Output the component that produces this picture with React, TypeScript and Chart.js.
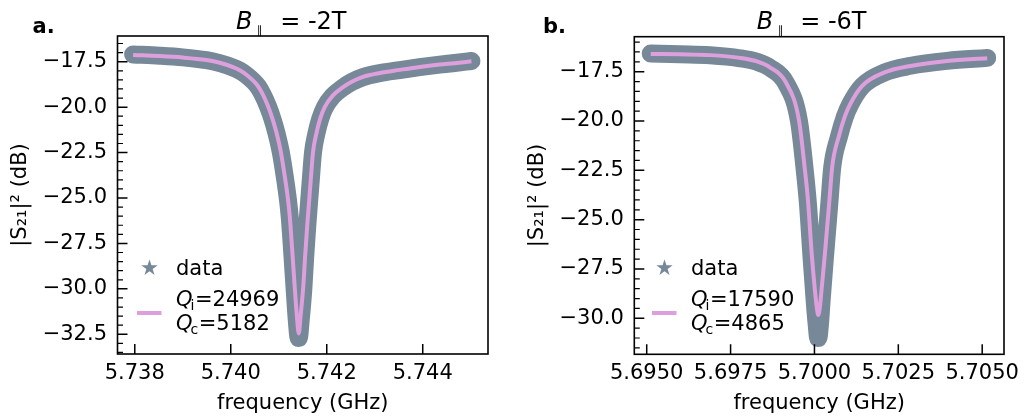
import React, { useEffect, useRef } from "react";
import { Chart, registerables } from "chart.js";
Chart.register(...registerables);

const FONT = "'DejaVu Sans', sans-serif";
const DATA_COLOR = "#778899";
const FIT_COLOR = "#dda0dd";

// ---------- panel a (B = -2T) ----------
const freqA = [
  5.737965, 5.738521, 5.739000, 5.739494, 5.739771, 5.740048, 5.740188, 5.740327,
  5.740569, 5.740667, 5.740777, 5.740865, 5.740952, 5.741042, 5.741125, 5.741194,
  5.741229, 5.741281, 5.741333, 5.741375, 5.741417, 5.741458, 5.741510, 5.741552,
  5.741594, 5.741635, 5.741667, 5.741715, 5.741785, 5.741865, 5.741958, 5.742125,
  5.742340, 5.742521, 5.742756, 5.743104, 5.743521, 5.743938, 5.744354, 5.744667,
  5.745015,
];
const fitA = [
  -17.13, -17.19, -17.27, -17.41, -17.56, -17.8, -17.97, -18.22,
  -18.85, -19.3, -19.95, -20.6, -21.4, -22.45, -23.8, -25.11,
  -26.0, -27.9, -29.9, -31.4, -32.45, -31.4, -29.9, -28.1,
  -26.5, -25.1, -24.0, -22.45, -21.44, -20.62, -20.0, -19.37,
  -18.9, -18.6, -18.33, -18.12, -17.95, -17.79, -17.66, -17.58,
  -17.48,
];
const dataA = [
  -17.1, -17.17, -17.26, -17.42, -17.58, -17.82, -17.99, -18.24,
  -18.87, -19.32, -19.97, -20.62, -21.42, -22.47, -23.82, -25.15,
  -26.05, -28.0, -30.1, -31.7, -32.7, -31.7, -30.1, -28.2,
  -26.55, -25.12, -24.02, -22.47, -21.45, -20.64, -20.02, -19.39,
  -18.92, -18.62, -18.35, -18.13, -17.96, -17.8, -17.66, -17.57,
  -17.46,
];
const xTicksA = [5.738, 5.74, 5.742, 5.744];
const yTicksA = [-32.5, -30.0, -27.5, -25.0, -22.5, -20.0, -17.5];

// ---------- panel b (B = -6T) ----------
const freqB = [
  5.695119, 5.695992, 5.696886, 5.69778, 5.698287, 5.698674, 5.699151, 5.699538,
  5.699717, 5.699806, 5.699917, 5.700015, 5.700066, 5.700113, 5.700164, 5.700209,
  5.700313, 5.700447, 5.70053, 5.70073, 5.700909, 5.701079, 5.701424, 5.702071,
  5.702867, 5.703957, 5.705149,
];
const fitB = [
  -16.6, -16.62, -16.66, -16.8, -16.98, -17.28, -18.05, -19.95,
  -22.5, -24.0, -26.7, -28.6, -29.4, -29.83, -29.4, -28.6,
  -26.7, -24.0, -22.3, -20.76, -19.75, -19.1, -18.22, -17.55,
  -17.21, -16.96, -16.82,
];
const dataB = [
  -16.58, -16.62, -16.67, -16.82, -17.0, -17.3, -18.08, -20.0,
  -22.6, -24.2, -27.0, -29.3, -30.3, -31.0, -30.3, -29.2,
  -26.9, -24.1, -22.35, -20.8, -19.77, -19.11, -18.23, -17.55,
  -17.2, -16.95, -16.8,
];
const xTicksB = [5.695, 5.6975, 5.7, 5.7025, 5.705];
const yTicksB = [-30.0, -27.5, -25.0, -22.5, -20.0, -17.5];

type Cfg = {
  left: number; width: number;
  freq: number[]; fit: number[]; data: number[];
  xTicks: number[]; yTicks: number[]; xDec: number;
  xMin: number; xMax: number; yMin: number; yMax: number;
  yAxisW: number; xAxisH: number; padTop: number; padRight: number; yTitlePad: number;
  panel: string; panelX: number; field: string; titleX: number; parX: number; eqX: number;
  qi: string; qc: string;
};

const cfgA: Cfg = {
  left: 0, width: 515, freq: freqA, fit: fitA, data: dataA,
  xTicks: xTicksA, yTicks: yTicksA, xDec: 3,
  xMin: 5.73764, xMax: 5.74536, yMin: -33.584, yMax: -16.086,
  yAxisW: 117.5, xAxisH: 65, padTop: 36, padRight: 27, yTitlePad: 8,
  panel: "a.", panelX: 32.5, field: "-2T", titleX: 236, parX: 257, eqX: 280.2,
  qi: "24969", qc: "5182",
};
const cfgB: Cfg = {
  left: 515, width: 514, freq: freqB, fit: fitB, data: dataB,
  xTicks: xTicksB, yTicks: yTicksB, xDec: 4,
  xMin: 5.69463, xMax: 5.70565, yMin: -31.825, yMax: -15.726,
  yAxisW: 119.3, xAxisH: 64.7, padTop: 36.7, padRight: 25, yTitlePad: 9.5,
  panel: "b.", panelX: 28, field: "-6T", titleX: 241.7, parX: 263, eqX: 285.2,
  qi: "17590", qc: "4865",
};

function starPath(ctx: CanvasRenderingContext2D, cx: number, cy: number, R: number) {
  const r = R * 0.381966;
  ctx.beginPath();
  for (let i = 0; i < 10; i++) {
    const rad = i % 2 === 0 ? R : r;
    const a = -Math.PI / 2 + (i * Math.PI) / 5;
    const px = cx + rad * Math.cos(a);
    const py = cy + rad * Math.sin(a);
    if (i === 0) ctx.moveTo(px, py);
    else ctx.lineTo(px, py);
  }
  ctx.closePath();
}

function decor(cfg: Cfg) {
  return {
    id: "decor" + cfg.panel,
    afterDraw(chart: any) {
      const ctx: CanvasRenderingContext2D = chart.ctx;
      const a = chart.chartArea;
      const xs = chart.scales.x;
      const ys = chart.scales.y;
      ctx.save();
      // ticks (inward)
      ctx.strokeStyle = "#000";
      ctx.lineWidth = 1.5;
      ctx.beginPath();
      for (const v of cfg.xTicks) {
        const px = xs.getPixelForValue(v);
        ctx.moveTo(px, a.bottom);
        ctx.lineTo(px, a.bottom - 10);
      }
      for (const v of cfg.yTicks) {
        const py = ys.getPixelForValue(v);
        ctx.moveTo(a.left, py);
        ctx.lineTo(a.left + 10, py);
      }
      ctx.stroke();
      ctx.lineWidth = 1.2;
      ctx.beginPath();
      const start = Math.ceil(cfg.yMin * 2) / 2;
      for (let v = start; v <= cfg.yMax; v += 0.5) {
        if (cfg.yTicks.some((t) => Math.abs(t - v) < 1e-6)) continue;
        const py = ys.getPixelForValue(v);
        ctx.moveTo(a.left, py);
        ctx.lineTo(a.left + 5.5, py);
      }
      ctx.stroke();
      // spines
      ctx.lineWidth = 1.6;
      ctx.strokeRect(a.left, a.top, a.right - a.left, a.bottom - a.top);

      ctx.fillStyle = "#000";
      ctx.textAlign = "left";
      ctx.textBaseline = "alphabetic";
      // panel label
      ctx.font = `bold 21px ${FONT}`;
      ctx.fillText(cfg.panel, cfg.panelX, 33.3);
      // title
      ctx.font = `italic 24px ${FONT}`;
      ctx.fillText("B", cfg.titleX, 29.3);
      ctx.font = `11px ${FONT}`;
      ctx.fillText("\u2225", cfg.parX, 34);
      ctx.font = `24px ${FONT}`;
      ctx.fillText("= " + cfg.field, cfg.eqX, 29.3);

      // legend
      ctx.fillStyle = DATA_COLOR;
      starPath(ctx, 149.5, 268, 8.6);
      ctx.fill();
      ctx.fillStyle = "#000";
      ctx.font = `21px ${FONT}`;
      const lx = 176;
      ctx.fillText(chart.data.datasets[1].label, lx, 274.5);
      ctx.strokeStyle = FIT_COLOR;
      ctx.lineWidth = 4;
      ctx.beginPath();
      ctx.moveTo(137, 313);
      ctx.lineTo(161.5, 313);
      ctx.stroke();
      const qline = (sub: string, val: string, base: number) => {
        ctx.font = `italic 21px ${FONT}`;
        ctx.fillText("Q", lx, base);
        const w = ctx.measureText("Q").width;
        ctx.font = `14px ${FONT}`;
        ctx.fillText(sub, lx + w - 2, base + 4);
        const ws = ctx.measureText(sub).width;
        ctx.font = `21px ${FONT}`;
        ctx.fillText("=" + val, lx + w - 2 + ws + 0.5, base);
      };
      qline("i", cfg.qi, 306);
      qline("c", cfg.qc, 329.5);
      ctx.restore();
    },
  };
}

function Panel({ cfg }: { cfg: Cfg }) {
  const ref = useRef<HTMLCanvasElement>(null);
  useEffect(() => {
    const canvas = ref.current as HTMLCanvasElement;
    const tickFont = { family: FONT, size: 21 };
    const chart = new Chart(canvas, {
      type: "scatter",
      data: {
        datasets: [
          {
            label: "fit",
            data: cfg.freq.map((f, i) => ({ x: f, y: cfg.fit[i] })),
            showLine: true,
            borderColor: FIT_COLOR,
            borderWidth: 4,
            pointRadius: 0,
            cubicInterpolationMode: "monotone",
            order: 1,
          } as any,
          {
            label: "data",
            data: cfg.freq.map((f, i) => ({ x: f, y: cfg.data[i] })),
            showLine: true,
            borderColor: DATA_COLOR,
            borderWidth: 18,
            borderCapStyle: "round",
            borderJoinStyle: "round",
            pointRadius: 0,
            cubicInterpolationMode: "monotone",
            order: 2,
          } as any,
        ],
      },
      options: {
        responsive: false,
        animation: false,
        devicePixelRatio: 1,
        layout: { padding: { top: cfg.padTop, right: cfg.padRight, left: 0, bottom: 0 } },
        plugins: { legend: { display: false }, tooltip: { enabled: false }, title: { display: false } },
        scales: {
          x: {
            type: "linear",
            position: "bottom",
            min: cfg.xMin,
            max: cfg.xMax,
            afterBuildTicks: (s: any) => {
              s.ticks = cfg.xTicks.map((v) => ({ value: v }));
            },
            afterFit: (s: any) => {
              s.height = cfg.xAxisH;
            },
            grid: { display: false, drawTicks: false },
            border: { display: false },
            ticks: {
              font: tickFont,
              color: "#000",
              padding: 7,
              maxRotation: 0,
              autoSkip: false,
              callback: (v: any) => Number(v).toFixed(cfg.xDec),
            },
            title: {
              display: true,
              text: "frequency (GHz)",
              font: tickFont,
              color: "#000",
              padding: { top: 0, bottom: 2.5 },
            },
          },
          y: {
            type: "linear",
            position: "left",
            min: cfg.yMin,
            max: cfg.yMax,
            afterBuildTicks: (s: any) => {
              s.ticks = cfg.yTicks.map((v) => ({ value: v }));
            },
            afterFit: (s: any) => {
              s.width = cfg.yAxisW;
            },
            grid: { display: false, drawTicks: false },
            border: { display: false },
            ticks: {
              font: tickFont,
              color: "#000",
              padding: 10.5,
              autoSkip: false,
              callback: (v: any) => Number(v).toFixed(1).replace("-", "\u2212"),
            },
            title: {
              display: true,
              text: "|S\u2082\u2081|\u00b2 (dB)",
              font: tickFont,
              color: "#000",
              padding: { top: cfg.yTitlePad, bottom: 0 },
            },
          },
        },
      },
      plugins: [decor(cfg)],
    } as any);
    return () => chart.destroy();
  }, []);
  return (
    <canvas
      ref={ref}
      width={cfg.width}
      height={419}
      style={{ position: "absolute", left: cfg.left, top: 0, width: cfg.width, height: 419 }}
    />
  );
}

export default function App() {
  return (
    <div style={{ position: "absolute", left: 0, top: 0, width: 1029, height: 419, background: "#fff" }}>
      <Panel cfg={cfgA} />
      <Panel cfg={cfgB} />
    </div>
  );
}
